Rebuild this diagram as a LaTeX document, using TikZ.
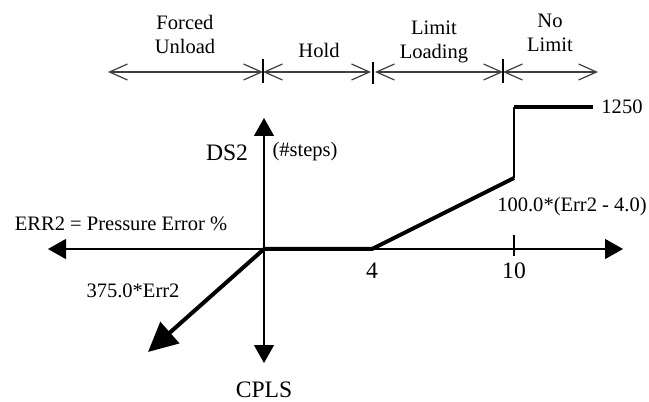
\documentclass[tikz,border=0pt]{standalone}
\usepackage{fontspec}
\setmainfont{Liberation Serif}
\usetikzlibrary{arrows.meta}
\begin{document}
\begin{tikzpicture}[x=0.75pt,y=-0.75pt,
  lbl/.style={font=\fontsize{15.4}{18}\selectfont, inner sep=0pt, align=center},
  big/.style={font=\fontsize{17.7}{20}\selectfont, inner sep=0pt},
  axisline/.style={line width=1pt},
  tri/.tip={Triangle[length=13.5pt,width=15pt]},
  heavy/.style={line width=3pt},
  barb/.tip={Straight Barb[length=13.5pt,width=12pt,line width=0.9pt]},
  rangebar/.style={line width=0.9pt, draw=black!75, {barb}-{barb}},
  tickmark/.style={line width=0.9pt}]
\useasboundingbox (0,0) rectangle (649,402);
% coordinates
\coordinate (O) at (264,249);
\coordinate (xl) at (48,249);
\coordinate (xr) at (623,249);
\coordinate (yt) at (264,118);
\coordinate (yb) at (264,363);
\coordinate (p4) at (372,249);
\coordinate (p10) at (514,178);
\coordinate (p10t) at (514,107);
\coordinate (pend) at (593,107);
\coordinate (dtip) at (148,352);
\coordinate (dsa) at (514,235);
\coordinate (dsb) at (514,256);
% top range bar
\coordinate (r0) at (108,72);
\coordinate (r1) at (263,72);
\coordinate (r2a) at (371,72);
\coordinate (r2b) at (375,72);
\coordinate (r3) at (503,72);
\coordinate (r4) at (598,72);
\coordinate (t1a) at (263,59); \coordinate (t1b) at (263,83);
\coordinate (t2a) at (373,62); \coordinate (t2b) at (373,84);
\coordinate (t3a) at (503,59); \coordinate (t3b) at (503,83);
\draw[rangebar] (r0) -- (r1);
\draw[rangebar] (r1) -- (r2a);
\draw[rangebar] (r2b) -- (r3);
\draw[rangebar] (r3) -- (r4);
\draw[tickmark] (t1a) -- (t1b);
\draw[tickmark] (t2a) -- (t2b);
\draw[tickmark] (t3a) -- (t3b);
\node[lbl] (fu) at (185,34) {Forced\\Unload};
\node[lbl] (hold) at (319,50) {Hold};
\node[lbl] (ll) at (434,42) {Limit\\Loading};
\node[lbl] (nl) at (550,33) {No\\Limit};
% axes
\draw[axisline, {tri}-{tri}] (xl) -- (xr);
\draw[axisline, {tri}-{tri}] (yt) -- (yb);
% curve
\draw[heavy, line join=miter] (O) -- (p4) -- (p10);
\draw[axisline] (p10) -- (p10t);
\draw[heavy] (p10t) -- (pend);
\draw[heavy, -{Triangle[length=22pt,width=21pt]}] (O) -- (dtip);
\draw[axisline] (dsa) -- (dsb);
% labels
\node[lbl] (l1250) at (622,107) {1250};
\node[lbl] (lform) at (572,207) {100.0*(Err2 - 4.0)};
\node[big] (l4) at (372,271) {4};
\node[big] (l10) at (514,271) {10};
\node[lbl] (l375) at (133,291) {375.0*Err2};
\node[lbl] (lerr) at (121,224) {ERR2 = Pressure Error \%};
\node[big] (lcpls) at (264,390) {CPLS};
\node[big] (lds2) at (227,153) {DS2};
\node[lbl] (lsteps) at (305,152) {(\#steps)};
\end{tikzpicture}
\end{document}
